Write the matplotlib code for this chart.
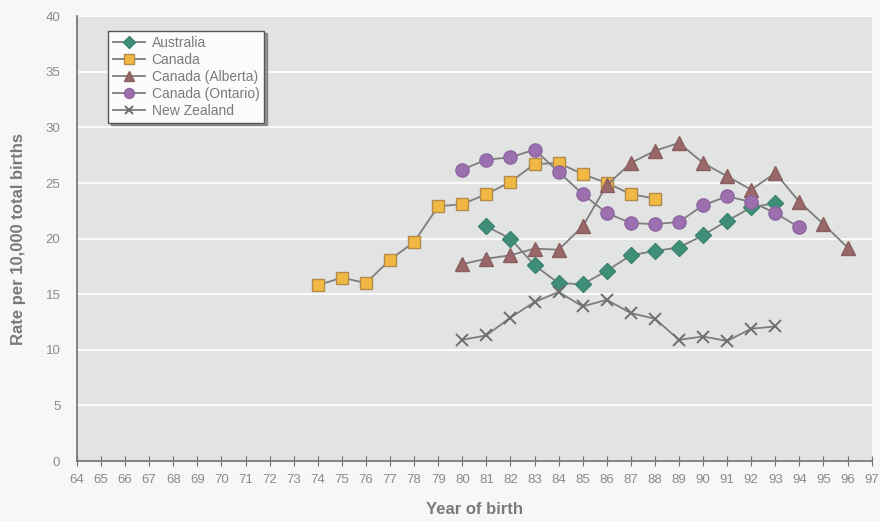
import matplotlib
matplotlib.use("Agg")
import matplotlib.pyplot as plt

# values
aus_years = list(range(81, 94))
aus_rate = [21.1, 20.0, 17.6, 16.0, 15.9, 17.1, 18.5, 18.9, 19.2, 20.3, 21.6, 22.8, 23.2]

can_years = list(range(74, 89))
can_rate = [15.8, 16.5, 16.0, 18.1, 19.7, 22.9, 23.1, 24.0, 25.1, 26.7, 26.8, 25.8, 25.0, 24.0, 23.6]

alb_years = list(range(80, 97))
alb_rate = [17.7, 18.2, 18.5, 19.1, 19.0, 21.1, 24.8, 26.8, 27.9, 28.6, 26.8, 25.6, 24.4, 25.9,
            23.3, 21.3, 19.2]

ont_years = list(range(80, 95))
ont_rate = [26.2, 27.1, 27.3, 28.0, 26.0, 24.0, 22.3, 21.4, 21.3, 21.5, 23.0, 23.8, 23.3, 22.3, 21.0]

nz_years = list(range(80, 94))
nz_rate = [10.9, 11.3, 12.9, 14.3, 15.2, 13.9, 14.5, 13.3, 12.8, 10.9, 11.2, 10.8, 11.9, 12.1]

x_ticks = list(range(64, 98))
y_ticks = list(range(0, 41, 5))

plt.rcParams['font.family'] = ['Liberation Sans', 'DejaVu Sans']

fig = plt.figure(figsize=(8.8, 5.21), dpi=100, facecolor="#f7f7f5")
ax = fig.add_axes([0.0875, 0.115, 0.903, 0.854])
ax.set_facecolor("#e2e4e4")

line_c = "#7d7d7d"
ax.plot(aus_years, aus_rate, color=line_c, lw=1.3, marker="D", ms=8.5,
        mfc="#3f8f78", mec="#3a8470", label="Australia", zorder=3)
ax.plot(can_years, can_rate, color=line_c, lw=1.3, marker="s", ms=9,
        mfc="#f1b943", mec="#b48a4a", label="Canada", zorder=3)
ax.plot(alb_years, alb_rate, color=line_c, lw=1.3, marker="^", ms=9.5,
        mfc="#9a6868", mec="#8a5e5e", label="Canada (Alberta)", zorder=3)
ax.plot(ont_years, ont_rate, color=line_c, lw=1.3, marker="o", ms=9.5,
        mfc="#9c70ae", mec="#8e66a0", label="Canada (Ontario)", zorder=3)
ax.plot(nz_years, nz_rate, color=line_c, lw=1.3, marker="x", ms=8, mew=1.4,
        mec="#6e6e6e", label="New Zealand", zorder=3)

ax.set_xlim(64, 97)
ax.set_ylim(0, 40)
ax.set_xticks(x_ticks)
ax.set_yticks(y_ticks)
ax.set_xticks(range(65, 97, 5), minor=True)

ax.grid(True, which="minor", axis="x", color="white", lw=1.2)
ax.grid(True, which="major", axis="y", color="white", lw=1.2)
ax.set_axisbelow(True)

for s in ["top", "right"]:
    ax.spines[s].set_visible(False)
ax.spines["left"].set_color("#707070")
ax.spines["bottom"].set_color("#707070")
ax.spines["left"].set_linewidth(1.2)
ax.spines["bottom"].set_linewidth(1.2)

ax.tick_params(axis="x", which="major", direction="inout", length=7, color="#707070",
               labelsize=9.5, labelcolor="#8a8a8a", pad=6)
ax.tick_params(axis="x", which="minor", length=0)
ax.tick_params(axis="y", length=0, labelsize=9.5, labelcolor="#8a8a8a", pad=12)

ax.set_xlabel("Year of birth", fontsize=12, fontweight="bold", color="#7a7a7a", labelpad=11)
ax.set_ylabel("Rate per 10,000 total births", fontsize=12, fontweight="bold",
              color="#7a7a7a", labelpad=14)

leg = ax.legend(loc="upper left", bbox_to_anchor=(0.03, 0.983), fontsize=10,
                frameon=True, fancybox=False, shadow=True, borderpad=0.35,
                handlelength=2.3, handletextpad=0.5, labelspacing=0.22,
                markerscale=0.75, labelcolor="#7a7a7a")
leg.get_frame().set_edgecolor("#555555")
leg.get_frame().set_facecolor("#fbfbfb")
leg.get_frame().set_linewidth(1.0)

fig.savefig("out.png", dpi=100, facecolor=fig.get_facecolor())
